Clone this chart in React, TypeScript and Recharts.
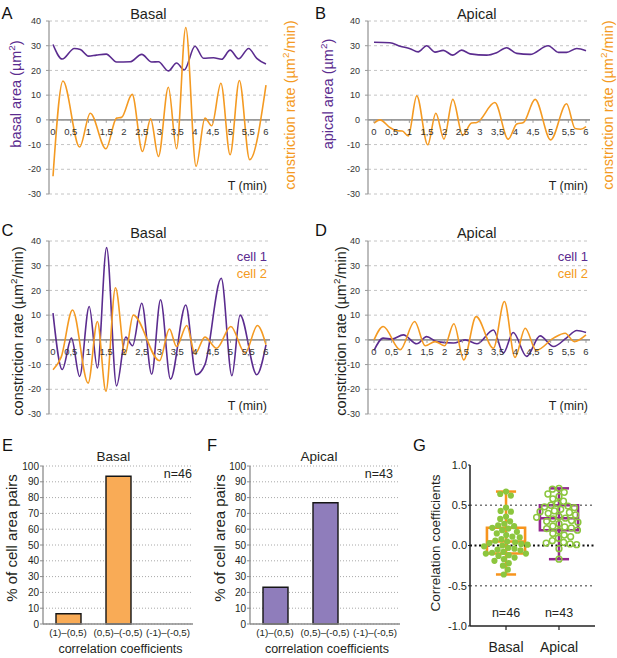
import React from 'react';
import {
  ComposedChart, Line, XAxis, YAxis, CartesianGrid, ReferenceLine, ReferenceDot,
  ReferenceArea, Scatter, BarChart, Bar,
} from 'recharts';

const FONT = '"Liberation Sans", Arial, Helvetica, sans-serif';
const PURPLE = '#5b2c8f';
const ORANGE = '#f49a22';
const GREEN = '#8cc63e';
const BOX_PURPLE = '#93278f';
const BOX_ORANGE = '#f7941d';
const BAR_ORANGE = '#f9ab56';
const BAR_PURPLE = '#8f7dbb';
const TXT = '#231f20';

// ---------- panels A-D : time traces ----------
const timeTicks = [0, 0.5, 1, 1.5, 2, 2.5, 3, 3.5, 4, 4.5, 5, 5.5, 6];
const timeTickLabels = ['0', '0,5', '1', '1,5', '2', '2,5', '3', '3,5', '4', '4,5', '5', '5,5', '6'];
const rateTicks = [-30, -20, -10, 0, 10, 20, 30, 40];

type P = [number, number];
const basalArea: P[] = [
  [0, 30.5], [0.26, 24.6], [0.6, 28.9], [0.77, 28.5], [1.0, 25.8], [1.22, 26.2], [1.5, 26.6],
  [1.79, 23.4], [2.17, 23.5], [2.5, 26.5], [2.78, 23.4], [2.97, 23.5], [3.25, 19.8], [3.48, 23],
  [3.7, 20.2], [4.0, 29.8], [4.24, 24.9], [4.52, 25.1], [4.75, 24.5], [4.99, 28.2], [5.23, 24.7],
  [5.51, 28.9], [5.74, 24.9], [6, 22.6],
];
const basalRate: P[] = [
  [0, -22.8], [0.28, 15.7], [0.75, -11], [1.05, 2.7], [1.49, -11.7], [1.79, 0.7], [1.93, 1],
  [2.23, 10.3], [2.52, -12.8], [2.75, 0.4], [2.97, -14.8], [3.25, 13.2], [3.48, -11.7], [3.74, 37.4],
  [4.03, -18.8], [4.28, 0.7], [4.47, -2.4], [4.73, 14.8], [4.99, -14.1], [5.25, 15.9], [5.54, -16.1],
  [6, 14.1],
];
const apicalArea: P[] = [
  [0, 31.4], [0.45, 31.2], [0.74, 29.8], [1.02, 28.8], [1.25, 27.5], [1.49, 30], [1.73, 27.4],
  [1.96, 28.1], [2.23, 26.2], [2.48, 28.2], [2.72, 26.7], [3.19, 26.2], [3.47, 27.2], [3.75, 29.2],
  [4.04, 26.9], [4.42, 26.5], [4.93, 30], [5.22, 27.3], [5.45, 27.3], [5.74, 28.9], [6, 28],
];
const apicalRate: P[] = [
  [0, -1.3], [0.17, 0], [0.45, -3.1], [0.64, -4.4], [0.8, -4.5], [0.97, -6.5], [1.21, 9.7],
  [1.52, -10.1], [1.75, 2.7], [1.98, -7.8], [2.23, 8.3], [2.51, -6.2], [2.76, -1.3], [2.91, -1.1],
  [3.42, 7], [3.8, -7.8], [4.04, -1.7], [4.23, -1.1], [4.56, 8.3], [5, -8.1], [5.45, 6.5],
  [5.69, -3.5], [5.85, -3.8], [6, -2.7],
];
const basalCell1: P[] = [
  [0, 10.8], [0.26, -12], [0.52, 0.7], [0.75, -14.8], [1.02, 13.5], [1.25, -11.4], [1.51, 37.3],
  [1.79, -18.6], [2.05, 1.1], [2.24, -2.4], [2.5, 14.8], [2.78, -13.9], [3.03, 16.2], [3.31, -15.9],
  [3.74, 14.1], [4.03, -14.1], [4.28, -10], [4.74, 24.9], [5.04, -14.5], [5.27, 10], [5.74, -14.1],
  [6, -2],
];
const basalCell2: P[] = [
  [0, -12.1], [0.23, -7], [0.55, 12.1], [0.99, -17.5], [1.25, 7.4], [1.49, -20.8], [1.76, 21.1],
  [2.03, -6], [2.26, 10], [3.0, -8.4], [3.28, 4.4], [3.48, -2.7], [3.77, 5.8], [4.0, -5.7],
  [4.28, 1.1], [4.61, -3.4], [5.01, 5.4], [5.41, -5.4], [5.76, 5.8], [6, -2],
];
const apicalCell1: P[] = [
  [0, -4.3], [0.26, 0.7], [0.5, 0.3], [0.83, 2], [1.21, -1.6], [1.49, 1.3], [1.77, -0.7],
  [2.25, -1.3], [2.58, 0], [2.91, -1.6], [3.38, 4], [3.66, -5.4], [3.94, 3], [4.32, -6.7],
  [4.7, 1.6], [5.08, -2.7], [5.45, 0.8], [5.74, 3.8], [6, 3],
];
const apicalCell2: P[] = [
  [0, 0], [0.26, 5.4], [0.74, -4], [1.15, 7.4], [1.45, -2.4], [1.73, -0.7], [2, -2.4],
  [2.26, 6.5], [2.54, -8.1], [2.89, 9.4], [3.38, -3.4], [3.69, 15.5], [3.99, -7.1], [4.28, 4.7],
  [4.59, -4.3], [5.08, 0.7], [5.41, 2.7], [5.67, -0.7], [6, 2],
];

// ---------- panels E-F : bars ----------
const corrCategories = ['(1)\u2013(0,5)', '(0,5)\u2013(-0,5)', '(-1)\u2013(-0,5)'];
const basalPct = [6.5, 93.5, 0];
const apicalPct = [23.3, 76.7, 0];
const pctTicks = [0, 10, 20, 30, 40, 50, 60, 70, 80, 90, 100];

// ---------- panel G : correlation box plot ----------
const groupNames = ['Basal', 'Apical'];
const basalCorr = [
  0.67, 0.64, 0.62, 0.47, 0.42, 0.43, 0.36, 0.33, 0.30, 0.27, 0.25, 0.24, 0.22, 0.21, 0.19, 0.17,
  0.15, 0.13, 0.11, 0.10, 0.08, 0.06, 0.05, 0.04, 0.03, 0.02, 0.01, 0.00, -0.01, -0.03, -0.04,
  -0.05, -0.06, -0.08, -0.09, -0.10, -0.10, -0.12, -0.13, -0.15, -0.17, -0.19, -0.22, -0.25,
  -0.30, -0.36,
];
const apicalCorr = [
  0.71, 0.70, 0.66, 0.64, 0.61, 0.58, 0.55, 0.52, 0.50, 0.49, 0.48, 0.47, 0.45, 0.43, 0.42, 0.41,
  0.40, 0.38, 0.36, 0.35, 0.34, 0.33, 0.31, 0.30, 0.29, 0.27, 0.24, 0.23, 0.22, 0.21, 0.19, 0.18,
  0.15, 0.13, 0.11, 0.09, 0.06, 0.04, 0.03, 0.02, 0.01, -0.04, -0.17,
];
// min, q1, median, q3, max
const basalBox = [-0.36, -0.10, 0.05, 0.22, 0.67];
const apicalBox = [-0.17, 0.19, 0.34, 0.50, 0.71];
const corrTicks = [-1, -0.5, 0, 0.5, 1];

const toPts = (arr: P[]) => arr.map(([t, v]) => ({ t, v }));

const tickShape = (label: string) => (p: any) => (
  <g>
    <line x1={p.cx} y1={p.cy} x2={p.cx} y2={p.cy + 3} stroke="#9a9a9a" strokeWidth={1} />
    <text x={p.cx} y={p.cy + 15} textAnchor="middle" fontSize={9.5} fill="#333" fontFamily={FONT}>
      {label}
    </text>
  </g>
);

function TracePanel(props: {
  left: number; top: number; width: number; axisW: number; right: number;
  xDomain: [number, number]; series: { data: P[]; color: string }[];
}) {
  const { left, top, width, axisW, right, xDomain, series } = props;
  return (
    <div style={{ position: 'absolute', left, top }}>
      <ComposedChart width={width} height={200} margin={{ top: 21, right, bottom: 6, left: 0 }}>
        <CartesianGrid vertical={false} stroke="#c4c4c4" strokeDasharray="3 3" />
        <XAxis type="number" dataKey="t" domain={xDomain} hide allowDataOverflow />
        <YAxis
          type="number" domain={[-30, 40]} ticks={rateTicks} width={axisW} interval={0}
          tick={{ fontSize: 9, fill: '#333' }} tickSize={3} tickMargin={5}
          axisLine={{ stroke: '#9a9a9a', strokeWidth: 1.3 }} tickLine={{ stroke: '#9a9a9a' }}
          allowDataOverflow
        />
        <ReferenceLine y={0} stroke="#9a9a9a" strokeWidth={1.8} />
        {timeTicks.map((t, i) => (
          <ReferenceDot key={'tk' + t} x={t} y={0} r={0} shape={tickShape(timeTickLabels[i])} />
        ))}
        {series.map((s, i) => (
          <Line
            key={'s' + i} data={toPts(s.data)} dataKey="v" type="monotone" stroke={s.color}
            strokeWidth={1.6} dot={false} activeDot={false} isAnimationActive={false}
          />
        ))}
      </ComposedChart>
    </div>
  );
}

function BarPanel(props: { left: number; axisW: number; right: number; values: number[]; color: string }) {
  const { left, axisW, right, values, color } = props;
  const data = corrCategories.map((c, i) => ({ cat: c, pct: values[i] }));
  return (
    <div style={{ position: 'absolute', left, top: 430 }}>
      <BarChart width={200} height={228} data={data} margin={{ top: 36, right, bottom: 14, left: 0 }}>
        <CartesianGrid vertical={false} stroke="#a8a8a8" strokeDasharray="1 2" />
        <XAxis
          dataKey="cat" interval={0} height={20} tick={{ fontSize: 9.8, fill: TXT }}
          tickSize={3} tickMargin={2} tickLine={false} axisLine={{ stroke: '#8c8c8c', strokeWidth: 1.3 }}
        />
        <YAxis
          type="number" domain={[0, 100]} ticks={pctTicks} width={axisW} interval={0}
          tick={{ fontSize: 10, fill: TXT }} tickSize={3} tickMargin={1}
          axisLine={{ stroke: '#8c8c8c', strokeWidth: 1.3 }} tickLine={{ stroke: '#8c8c8c' }}
        />
        <Bar dataKey="pct" fill={color} stroke="#151515" strokeWidth={1.4} barSize={25} isAnimationActive={false} />
      </BarChart>
    </div>
  );
}

function swarm(values: number[], center: number, diam: number, pxPerX: number, pxPerY: number) {
  const placed: { x: number; y: number }[] = [];
  const idx = values.map((_, i) => i).sort((a, b) => values[b] - values[a]);
  const res: { t: number; v: number }[] = new Array(values.length);
  for (const i of idx) {
    const y = values[i] * pxPerY;
    const blocks: [number, number][] = [];
    for (const p of placed) {
      const dy = Math.abs(p.y - y);
      if (dy < diam) {
        const w = Math.sqrt(diam * diam - dy * dy);
        blocks.push([p.x - w, p.x + w]);
      }
    }
    const cands = [0];
    blocks.forEach(([a, b]) => { cands.push(a, b); });
    cands.sort((a, b) => Math.abs(a) - Math.abs(b));
    let x = 0;
    for (const c of cands) {
      if (blocks.every(([a, b]) => c <= a + 1e-6 || c >= b - 1e-6)) { x = c; break; }
    }
    placed.push({ x, y });
    res[i] = { t: center + x / pxPerX, v: values[i] };
  }
  return res;
}

function BoxPlot() {
  const xDom: [number, number] = [0.32, 2.68];
  const pxX = 125 / (xDom[1] - xDom[0]);
  const pxY = 161 / 2;
  const basalPts = swarm(basalCorr, 1, 6.3, pxX, pxY);
  const apicalPts = swarm(apicalCorr, 2, 6.6, pxX, pxY);
  const hw = 0.36;
  const cw = 0.19;
  const boxes = [
    { c: 1, s: basalBox, color: BOX_ORANGE },
    { c: 2, s: apicalBox, color: BOX_PURPLE },
  ];
  return (
    <div style={{ position: 'absolute', left: 400, top: 430 }}>
      <ComposedChart width={217} height={228} margin={{ top: 35, right: 22, bottom: 0, left: 0 }}>
        <XAxis
          type="number" dataKey="t" domain={xDom} ticks={[1, 2]} interval={0}
          tickFormatter={(v: number) => groupNames[Math.round(v) - 1]} height={32}
          tick={{ fontSize: 14, fill: TXT }} tickSize={4} tickMargin={12}
          axisLine={{ stroke: '#222', strokeWidth: 1.5 }} tickLine={{ stroke: '#222', strokeWidth: 1.2 }}
          allowDataOverflow
        />
        <YAxis
          type="number" dataKey="v" domain={[-1, 1]} ticks={corrTicks} interval={0}
          tickFormatter={(v: number) => v.toFixed(1)} width={70}
          tick={{ fontSize: 11, fill: TXT }} tickSize={2} tickMargin={1}
          axisLine={{ stroke: '#222', strokeWidth: 1.5 }} tickLine={{ stroke: '#222' }}
        />
        <ReferenceLine y={0.5} stroke="#777" strokeWidth={1.3} strokeDasharray="2 3" />
        <ReferenceLine y={-0.5} stroke="#777" strokeWidth={1.3} strokeDasharray="2 3" />
        <ReferenceLine y={0} stroke="#111" strokeWidth={2} strokeDasharray="2 2.5" />
        {boxes.map((b) => (
          <ReferenceLine key={'w' + b.c} segment={[{ x: b.c, y: b.s[0] }, { x: b.c, y: b.s[4] }]} stroke={b.color} strokeWidth={2.5} />
        ))}
        {boxes.map((b) => (
          <ReferenceArea key={'b' + b.c} x1={b.c - hw} x2={b.c + hw} y1={b.s[1]} y2={b.s[3]} fill="none" fillOpacity={0} stroke={b.color} strokeWidth={2.6} />
        ))}
        {boxes.map((b) => (
          <ReferenceLine key={'m' + b.c} segment={[{ x: b.c - hw, y: b.s[2] }, { x: b.c + hw, y: b.s[2] }]} stroke={b.color} strokeWidth={2.5} />
        ))}
        {boxes.map((b) => (
          <ReferenceLine key={'ct' + b.c} segment={[{ x: b.c - cw, y: b.s[4] }, { x: b.c + cw, y: b.s[4] }]} stroke={b.color} strokeWidth={2.5} />
        ))}
        {boxes.map((b) => (
          <ReferenceLine key={'cb' + b.c} segment={[{ x: b.c - cw, y: b.s[0] }, { x: b.c + cw, y: b.s[0] }]} stroke={b.color} strokeWidth={2.5} />
        ))}
        <Scatter
          data={basalPts} dataKey="v" isAnimationActive={false}
          shape={(p: any) => <circle cx={p.cx} cy={p.cy} r={3.1} fill={GREEN} />}
        />
        <Scatter
          data={apicalPts} dataKey="v" isAnimationActive={false}
          shape={(p: any) => <circle cx={p.cx} cy={p.cy} r={2.9} fill="none" stroke={GREEN} strokeWidth={1.5} />}
        />
      </ComposedChart>
    </div>
  );
}

const sup = (size: number) => size * 0.38;

function RotLabel(props: { x: number; y: number; size: number; fill: string; pre: string; post: string }) {
  const { x, y, size, fill, pre, post } = props;
  return (
    <text x={x} y={y} fontSize={size} fill={fill} textAnchor="middle" transform={`rotate(-90 ${x} ${y})`}>
      {pre}
      <tspan fontSize={size * 0.68} dy={-sup(size)}>2</tspan>
      <tspan dy={sup(size)}>{post}</tspan>
    </text>
  );
}

function Overlay() {
  const letter = (s: string, x: number, y: number) => (
    <text key={s} x={x} y={y} fontSize={16.5} fill="#111">{s}</text>
  );
  return (
    <svg width={617} height={658} style={{ position: 'absolute', left: 0, top: 0, pointerEvents: 'none' }} fontFamily={FONT}>
      {letter('A', 1.5, 18.5)}
      {letter('B', 315, 18.5)}
      {letter('C', 1.5, 235.5)}
      {letter('D', 315, 235.5)}
      {letter('E', 2, 450.5)}
      {letter('F', 207, 450.5)}
      {letter('G', 413, 450.5)}

      <text x={148.3} y={19} fontSize={14.5} fill={TXT} textAnchor="middle">Basal</text>
      <text x={476.7} y={19} fontSize={14.5} fill={TXT} textAnchor="middle">Apical</text>
      <text x={148.3} y={237.5} fontSize={14.5} fill={TXT} textAnchor="middle">Basal</text>
      <text x={476.7} y={237.5} fontSize={14.5} fill={TXT} textAnchor="middle">Apical</text>
      <text x={113.3} y={460.5} fontSize={13.5} fill={TXT} textAnchor="middle">Basal</text>
      <text x={319} y={460.5} fontSize={13.5} fill={TXT} textAnchor="middle">Apical</text>

      <RotLabel x={20.5} y={94} size={14.5} fill={PURPLE} pre="basal area (µm" post=")" />
      <RotLabel x={295} y={105} size={14.5} fill={ORANGE} pre="constriction rate (µm" post="/min)" />
      <RotLabel x={333} y={94} size={14.5} fill={PURPLE} pre="apical area (µm" post=")" />
      <RotLabel x={613} y={105} size={14.5} fill={ORANGE} pre="constriction rate (µm" post="/min)" />
      <RotLabel x={22.5} y={331} size={14.5} fill={TXT} pre="constriction rate (µm" post="/min)" />
      <RotLabel x={346} y={331} size={14.5} fill={TXT} pre="constriction rate (µm" post="/min)" />

      <text x={17} y={538} fontSize={15} fill={TXT} textAnchor="middle" transform="rotate(-90 17 538)">% of cell area pairs</text>
      <text x={225} y={538} fontSize={15} fill={TXT} textAnchor="middle" transform="rotate(-90 225 538)">% of cell area pairs</text>
      <text x={440} y={543} fontSize={13.5} fill={TXT} textAnchor="middle" transform="rotate(-90 440 543)">Correlation coefficients</text>

      <text x={267} y={189.5} fontSize={12.5} fill={TXT} textAnchor="end">T (min)</text>
      <text x={588} y={189.5} fontSize={12.5} fill={TXT} textAnchor="end">T (min)</text>
      <text x={267} y={409.5} fontSize={12.5} fill={TXT} textAnchor="end">T (min)</text>
      <text x={588} y={409.5} fontSize={12.5} fill={TXT} textAnchor="end">T (min)</text>

      <text x={267} y={260.5} fontSize={13} fill={PURPLE} textAnchor="end">cell 1</text>
      <text x={267} y={277.5} fontSize={13} fill={ORANGE} textAnchor="end">cell 2</text>
      <text x={588} y={260.5} fontSize={13} fill={PURPLE} textAnchor="end">cell 1</text>
      <text x={588} y={277.5} fontSize={13} fill={ORANGE} textAnchor="end">cell 2</text>

      <text x={192} y={477.5} fontSize={12.5} fill={TXT} textAnchor="end">n=46</text>
      <text x={393} y={477.5} fontSize={12.5} fill={TXT} textAnchor="end">n=43</text>
      <text x={120.5} y={653} fontSize={12.5} fill={TXT} textAnchor="middle">correlation coefficients</text>
      <text x={327} y={653} fontSize={12.5} fill={TXT} textAnchor="middle">correlation coefficients</text>

      <text x={506} y={616.5} fontSize={12.5} fill={TXT} textAnchor="middle">n=46</text>
      <text x={559} y={616.5} fontSize={12.5} fill={TXT} textAnchor="middle">n=43</text>
    </svg>
  );
}

export default function App() {
  return (
    <div style={{ position: 'absolute', left: 0, top: 0, width: 617, height: 658, background: '#fff', fontFamily: FONT, overflow: 'hidden' }}>
      <TracePanel left={0} top={0} width={300} axisW={49} right={30} xDomain={[-0.113, 6.113]}
        series={[{ data: basalArea, color: PURPLE }, { data: basalRate, color: ORANGE }]} />
      <TracePanel left={300} top={0} width={317} axisW={68} right={27} xDomain={[-0.17, 6.113]}
        series={[{ data: apicalArea, color: PURPLE }, { data: apicalRate, color: ORANGE }]} />
      <TracePanel left={0} top={220} width={300} axisW={49} right={30} xDomain={[-0.113, 6.113]}
        series={[{ data: basalCell1, color: PURPLE }, { data: basalCell2, color: ORANGE }]} />
      <TracePanel left={300} top={220} width={317} axisW={68} right={27} xDomain={[-0.17, 6.113]}
        series={[{ data: apicalCell1, color: PURPLE }, { data: apicalCell2, color: ORANGE }]} />
      <BarPanel left={0} axisW={43} right={7} values={basalPct} color={BAR_ORANGE} />
      <BarPanel left={205} axisW={45} right={5} values={apicalPct} color={BAR_PURPLE} />
      <BoxPlot />
      <Overlay />
    </div>
  );
}
